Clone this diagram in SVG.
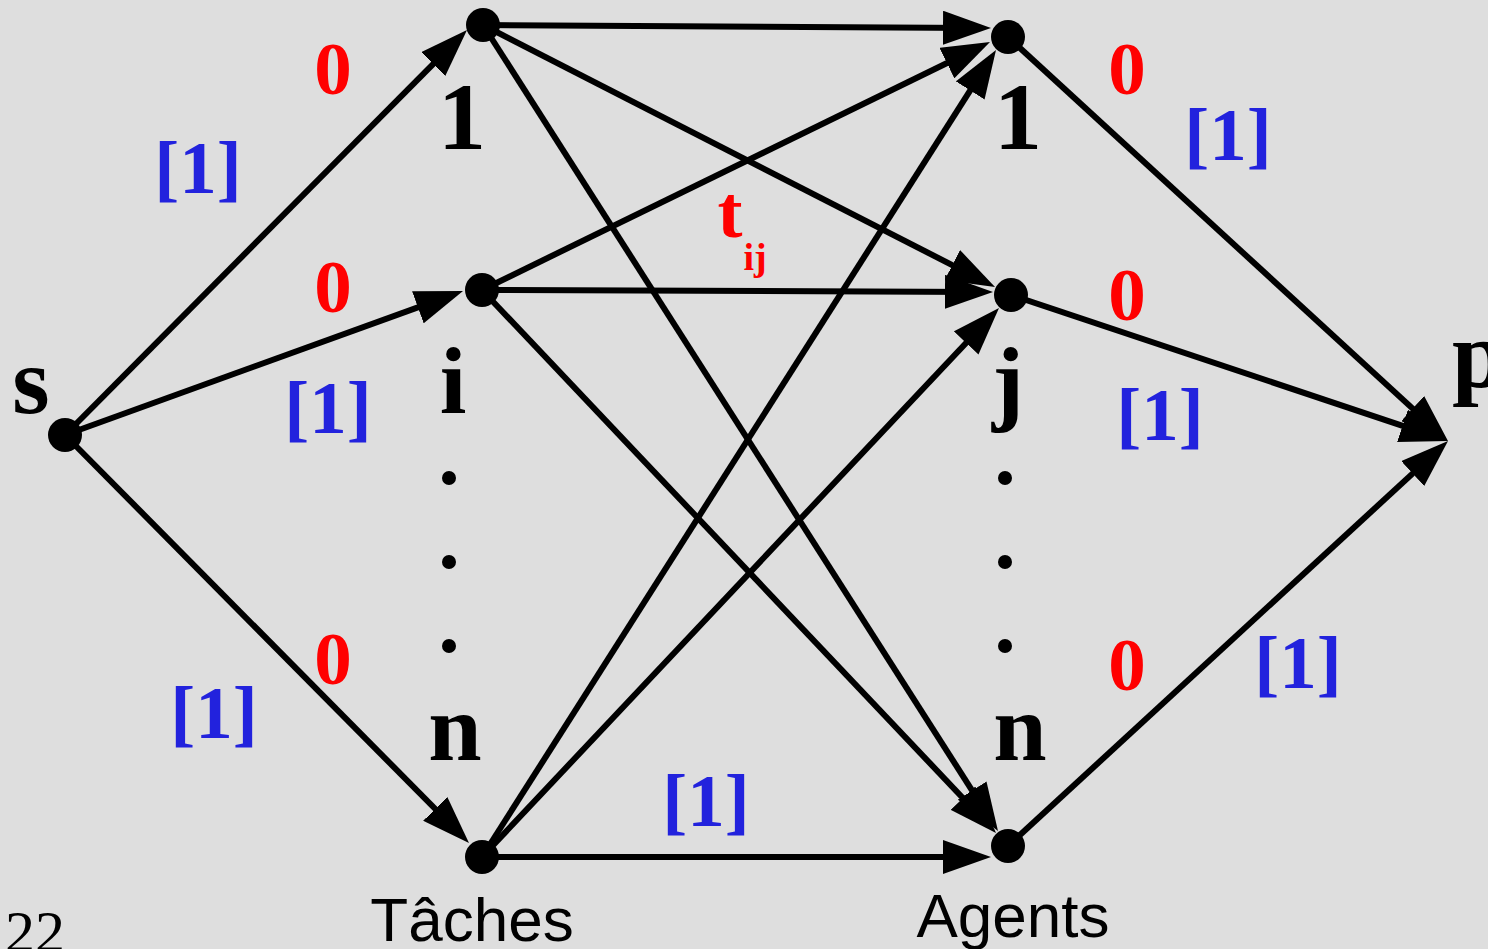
<svg xmlns="http://www.w3.org/2000/svg" width="1488" height="949" viewBox="0 0 1488 949">
  <style>
    .edge { stroke: #000; stroke-width: 6; fill: none; stroke-dasharray: 97 100; marker-end: url(#head); }
    .dot { fill: #000; }
    .name { font-family: "Liberation Serif", "Times New Roman", serif; font-weight: bold; font-size: 96px; fill: #000; text-anchor: middle; }
    .cost { font-family: "Liberation Serif", "Times New Roman", serif; font-weight: bold; font-size: 75px; fill: #FF0000; text-anchor: middle; }
    .cap { font-family: "Liberation Serif", "Times New Roman", serif; font-weight: bold; font-size: 75px; fill: #2222DD; text-anchor: middle; }
    .title { font-family: "Liberation Sans", Arial, sans-serif; font-size: 62px; fill: #000; text-anchor: middle; }
  </style>
  <defs>
    <marker id="head" viewBox="0 -17 48 34" refX="48" refY="0" markerWidth="48" markerHeight="34" markerUnits="userSpaceOnUse" orient="auto">
      <path d="M0,-17 L48,0 L0,17 Z" fill="#000"/>
    </marker>
  </defs>

  <rect x="0" y="0" width="1488" height="949" fill="#DEDEDE"/>

  <!-- connectors (dash 97/100 of pathLength keeps line ends hidden under the heads) -->
  <g id="edges">
    <path class="edge" pathLength="100" d="M65,435 L467,30"/>
    <path class="edge" pathLength="100" d="M65,435 L463,291"/>
    <path class="edge" pathLength="100" d="M65,435 L469,843"/>

    <path class="edge" pathLength="100" d="M483,25 L991,28"/>
    <path class="edge" pathLength="100" d="M483,25 L995,287"/>
    <path class="edge" pathLength="100" d="M483,25 L998,831"/>

    <path class="edge" pathLength="100" d="M482,290 L990,42"/>
    <path class="edge" pathLength="100" d="M482,290 L993,292"/>
    <path class="edge" pathLength="100" d="M482,290 L996,833"/>

    <path class="edge" pathLength="100" d="M482,857 L996,50"/>
    <path class="edge" pathLength="100" d="M482,857 L999,308"/>
    <path class="edge" pathLength="100" d="M482,857 L991,857"/>

    <path class="edge" pathLength="100" d="M1008,37 L1448,441"/>
    <path class="edge" pathLength="100" d="M1011,295 L1448,441"/>
    <path class="edge" pathLength="100" d="M1008,846 L1448,441"/>
  </g>

  <!-- edge labels: costs (red) and capacities (blue) -->
  <g id="edge-labels">
    <text class="cost" x="333" y="94">0</text>
    <text class="cost" x="333" y="312">0</text>
    <text class="cost" x="333" y="684">0</text>
    <text class="cost" x="1127" y="94">0</text>
    <text class="cost" x="1127" y="320">0</text>
    <text class="cost" x="1127" y="690">0</text>

    <text class="cost" x="730" y="237">t</text>
    <text class="cost" x="755" y="270" style="font-size:38px">ij</text>

    <text class="cap" x="198" y="193">[1]</text>
    <text class="cap" x="328" y="433">[1]</text>
    <text class="cap" x="214" y="738">[1]</text>
    <text class="cap" x="706" y="826">[1]</text>
    <text class="cap" x="1228" y="160">[1]</text>
    <text class="cap" x="1160" y="440">[1]</text>
    <text class="cap" x="1298" y="688">[1]</text>
  </g>

  <!-- source -->
  <g id="node-s">
    <circle class="dot" cx="65" cy="435" r="17"/>
    <text class="name" x="31" y="413">s</text>
  </g>

  <!-- tasks -->
  <g id="task-1">
    <circle class="dot" cx="483" cy="25" r="17"/>
    <text class="name" x="462" y="149">1</text>
  </g>
  <g id="task-i">
    <circle class="dot" cx="482" cy="290" r="17"/>
    <text class="name" x="453" y="413">i</text>
  </g>
  <g id="task-dots">
    <circle class="dot" cx="449" cy="478" r="7"/>
    <circle class="dot" cx="449" cy="562" r="7"/>
    <circle class="dot" cx="449" cy="646" r="7"/>
  </g>
  <g id="task-n">
    <circle class="dot" cx="482" cy="857" r="17"/>
    <text class="name" x="455" y="760">n</text>
  </g>

  <!-- agents -->
  <g id="agent-1">
    <circle class="dot" cx="1008" cy="37" r="17"/>
    <text class="name" x="1018" y="149">1</text>
  </g>
  <g id="agent-j">
    <circle class="dot" cx="1011" cy="295" r="17"/>
    <text class="name" x="1008" y="413">j</text>
  </g>
  <g id="agent-dots">
    <circle class="dot" cx="1005" cy="478" r="7"/>
    <circle class="dot" cx="1005" cy="562" r="7"/>
    <circle class="dot" cx="1005" cy="646" r="7"/>
  </g>
  <g id="agent-n">
    <circle class="dot" cx="1008" cy="846" r="17"/>
    <text class="name" x="1020" y="760">n</text>
  </g>

  <!-- sink -->
  <g id="node-p">
    <text class="name" x="1452" y="387" style="text-anchor:start">p</text>
  </g>

  <!-- column titles and page number -->
  <g id="titles">
    <text class="title" x="472" y="941">Tâches</text>
    <text class="title" x="1013" y="937">Agents</text>
    <text x="5" y="952" style="font-family:'Liberation Serif','Times New Roman',serif;font-size:60px;fill:#000">22</text>
  </g>
</svg>
